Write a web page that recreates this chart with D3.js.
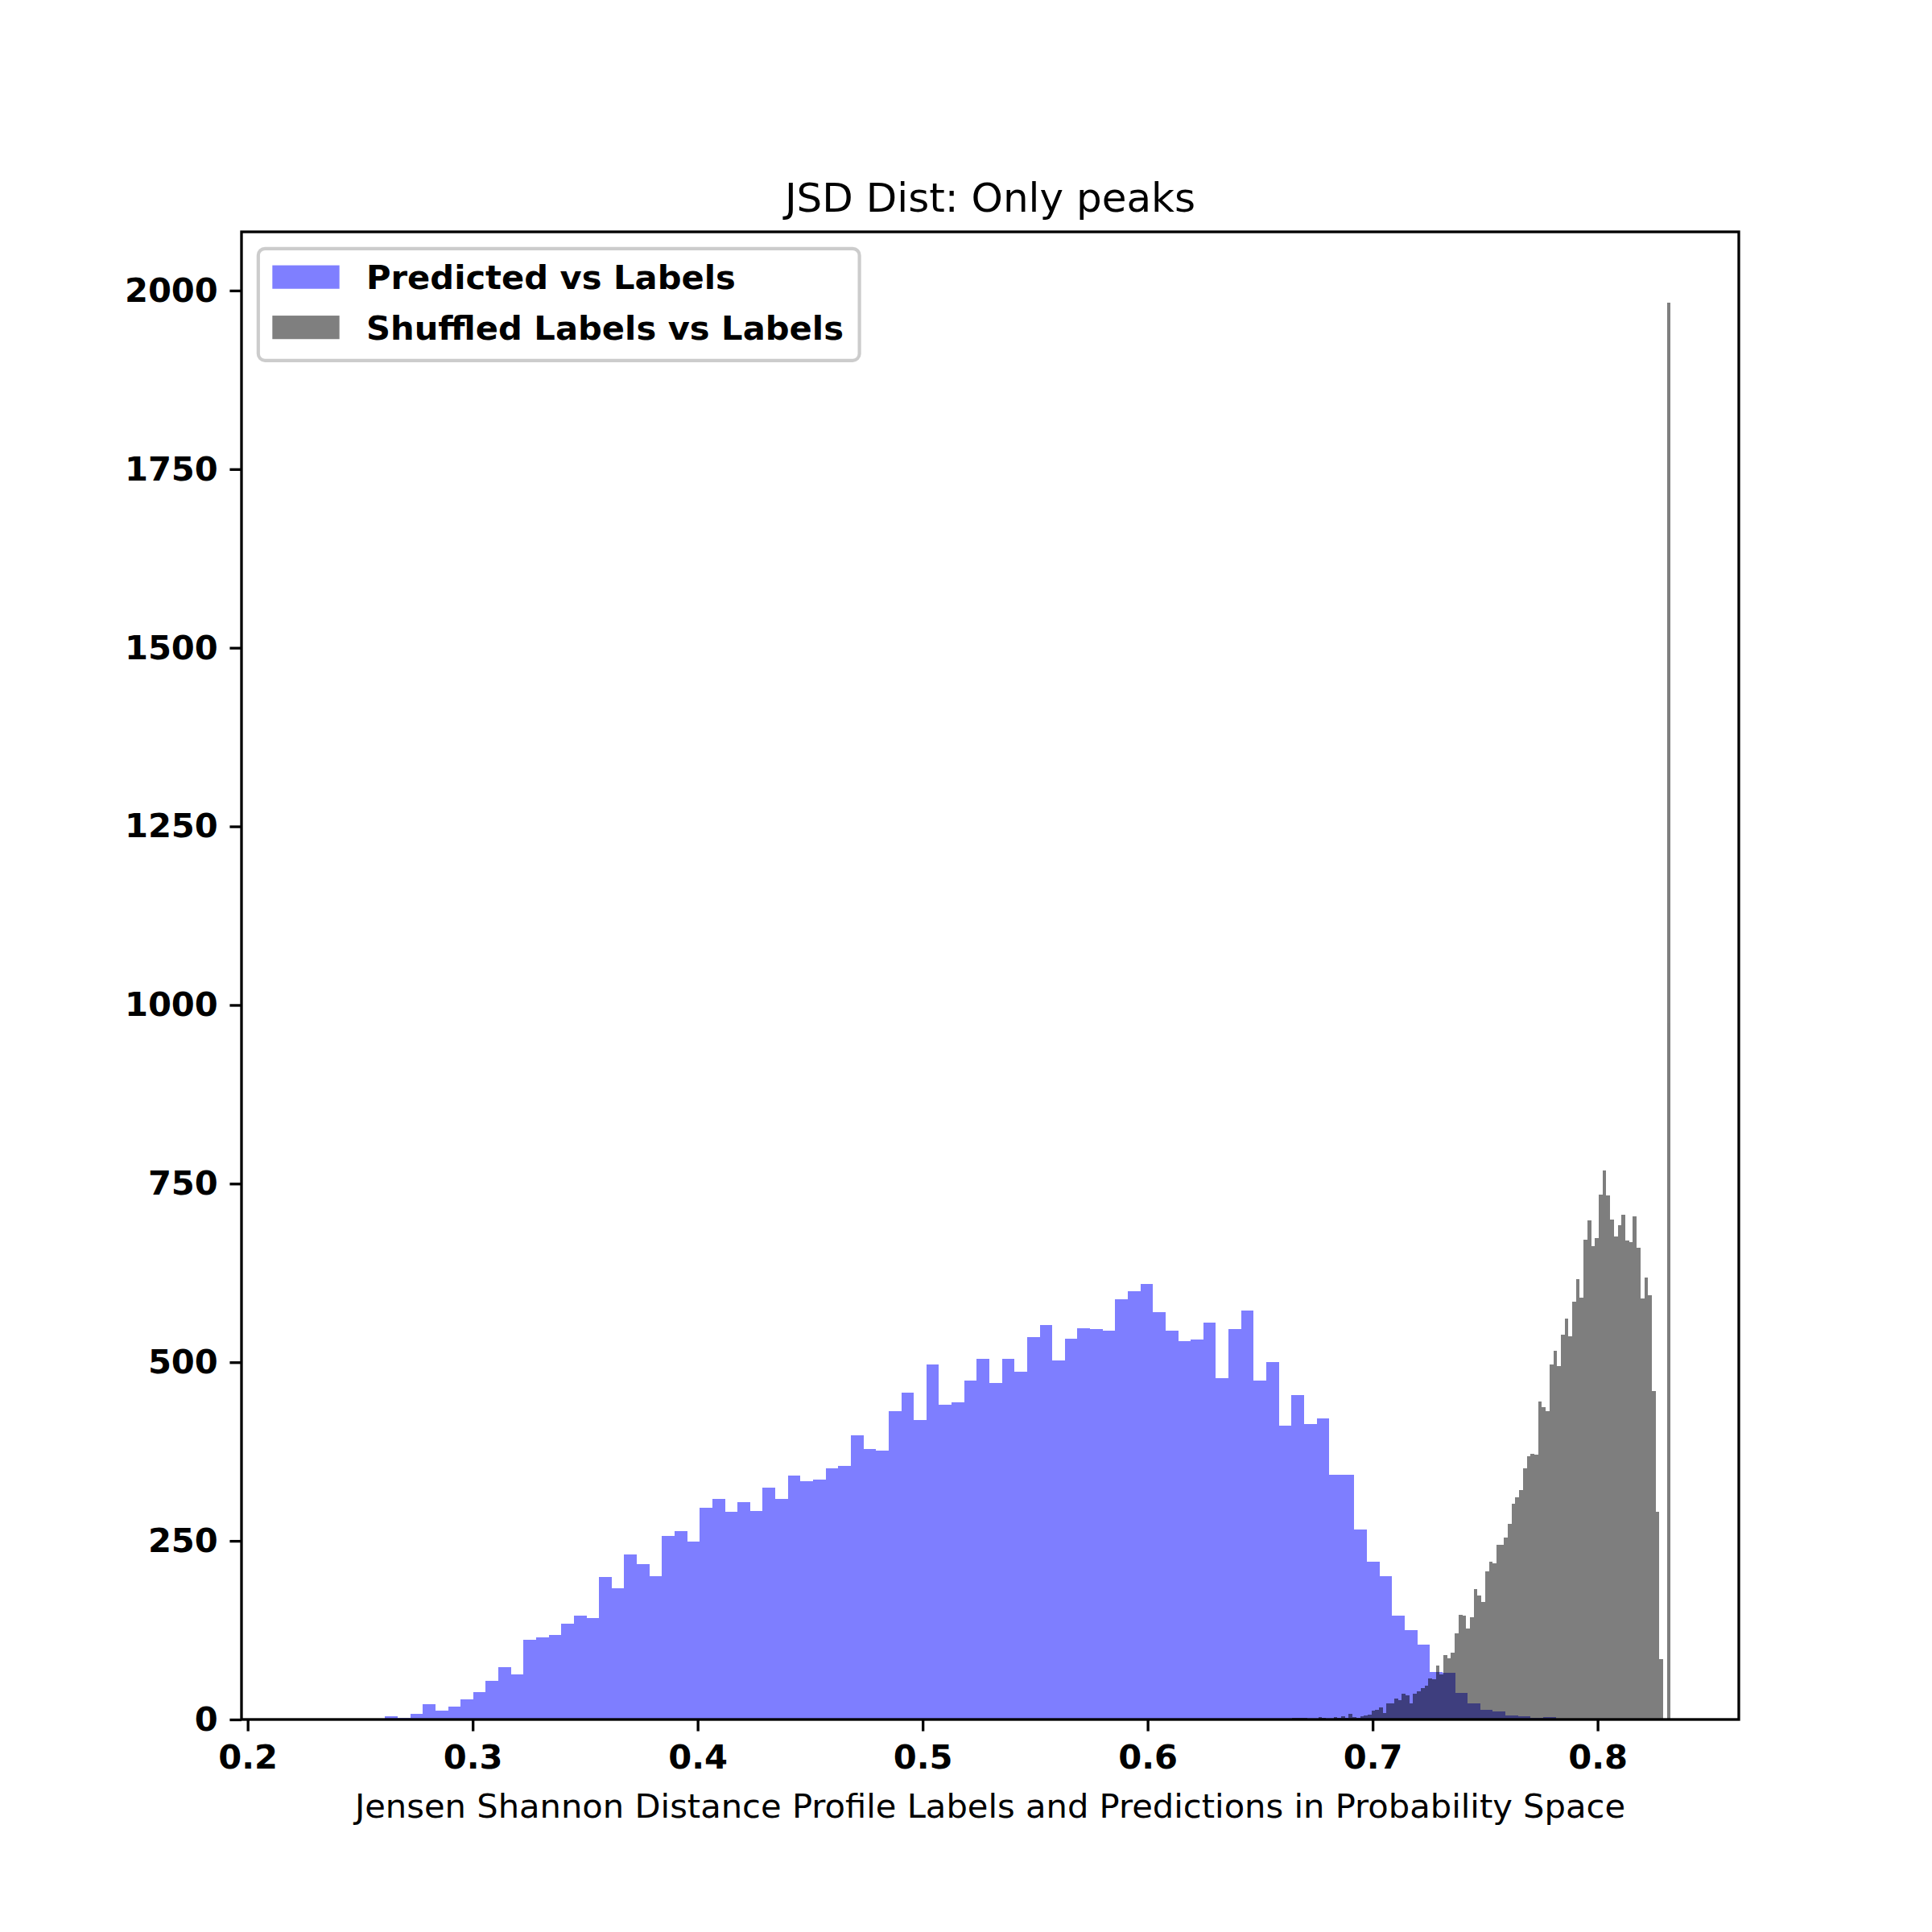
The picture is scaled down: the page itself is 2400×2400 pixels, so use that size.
<!DOCTYPE html>
<html>
<head>
<meta charset="utf-8">
<script src="https://cdn.jsdelivr.net/npm/d3@7/dist/d3.min.js"></script>
<style>
  body { margin: 0; background: #fff; }
  text { font-family: "DejaVu Sans", sans-serif; }
</style>
</head>
<body>
<div id="chart"></div>
<script>
// counts per bin, 100 equal bins over each series' own range
const predCounts = [
    1, 0, 0, 0, 0, 0, 4, 2, 8, 21,
    12, 18, 28, 38, 54, 73, 63, 111, 115, 118,
    134, 145, 142, 199, 184, 231, 217, 201, 257, 264,
    249, 296, 309, 291, 304, 292, 324, 309, 341, 333,
    336, 352, 355, 398, 379, 376, 431, 457, 419, 497,
    440, 444, 474, 505, 471, 505, 487, 535, 552, 502,
    533, 548, 546, 544, 588, 599, 609, 570, 544, 530,
    532, 556, 478, 546, 572, 474, 500, 411, 454, 414,
    421, 343, 343, 266, 221, 201, 145, 125, 105, 66,
    65, 37, 22, 13, 11, 6, 4, 2, 3, 1
]
const predRange = [0.2275, 0.7870]

const shufCounts = [
    2, 2, 2, 2, 0, 0, 0, 3, 2, 0,
    1, 3, 2, 4, 2, 8, 3, 2, 4, 6,
    7, 12, 13, 17, 9, 22, 22, 29, 27, 36,
    34, 22, 36, 39, 44, 47, 58, 56, 75, 63,
    90, 86, 93, 120, 146, 145, 127, 143, 182, 173,
    165, 207, 221, 219, 244, 244, 255, 274, 302, 311,
    321, 351, 368, 372, 371, 445, 437, 431, 497, 516,
    495, 539, 561, 536, 585, 616, 590, 671, 699, 662,
    674, 735, 768, 733, 700, 676, 692, 706, 670, 668,
    704, 660, 589, 619, 594, 460, 291, 85, 0, 1983
]
const shufRange = [0.6641, 0.8325]

const seriesNames = ["Predicted vs Labels", "Shuffled Labels vs Labels"]
const seriesColors = ["blue", "black"]
const xTicks = [0.2, 0.3, 0.4, 0.5, 0.6, 0.7, 0.8]
const yTicks = [0, 250, 500, 750, 1000, 1250, 1500, 1750, 2000]
const titleText = "JSD Dist: Only peaks"
const xLabelText = "Jensen Shannon Distance Profile Labels and Predictions in Probability Space"

function make_bins(counts, range)
{
    const w = (range[1] - range[0]) / counts.length
    return counts.map((n, i) => ({ x0: range[0] + i * w, x1: range[0] + (i + 1) * w, n: n }))
}

function draw()
{
    const width = 2400, height = 2400
    const margin = { left: 300, right: 240, top: 288, bottom: 264 }
    const fs = 300 / 72 * 10   // 10pt at 300 dpi
    const lw = 300 / 72 * 0.8

    const svg = d3.select("#chart")
        .append("svg")
            .attr("width", width)
            .attr("height", height)
            .style("background", "#fff")

    const w = width - margin.left - margin.right
    const h = height - margin.top - margin.bottom

    const g = svg.append("g")
        .attr("transform", `translate(${margin.left}, ${margin.top})`)

    const lo = Math.min(predRange[0], shufRange[0])
    const hi = Math.max(predRange[1], shufRange[1])
    const pad = 0.05 * (hi - lo)
    const x = d3.scaleLinear().domain([lo - pad, hi + pad]).range([0, w])

    const maxCount = d3.max(predCounts.concat(shufCounts))
    const y = d3.scaleLinear().domain([0, maxCount * 1.05]).range([h, 0])

    const series = [make_bins(predCounts, predRange), make_bins(shufCounts, shufRange)]

    series.forEach((bins, si) => {
        g.append("g")
            .attr("opacity", 0.5)
            .selectAll("rect")
            .data(bins)
            .enter().append("rect")
                .attr("x", d => x(d.x0))
                .attr("width", d => x(d.x1) - x(d.x0))
                .attr("y", d => y(d.n))
                .attr("height", d => y(0) - y(d.n))
                .attr("fill", seriesColors[si])
                .attr("shape-rendering", "crispEdges")
    })

    // axes
    const xAxis = g.append("g")
        .attr("transform", `translate(0, ${h})`)
        .call(d3.axisBottom(x).tickValues(xTicks).tickFormat(d3.format(".1f"))
            .tickSizeInner(fs * 0.35).tickSizeOuter(0).tickPadding(fs * 0.35))
    const yAxis = g.append("g")
        .call(d3.axisLeft(y).tickValues(yTicks).tickFormat(d3.format("d"))
            .tickSizeInner(fs * 0.35).tickSizeOuter(0).tickPadding(fs * 0.35))

    for (const ax of [xAxis, yAxis]) {
        ax.select(".domain").remove()
        ax.selectAll(".tick line").attr("stroke", "#000").attr("stroke-width", lw)
        ax.selectAll(".tick text")
            .attr("fill", "#000")
            .style("font-family", "'DejaVu Sans', sans-serif")
            .style("font-size", fs + "px")
            .style("font-weight", "bold")
    }
    xAxis.selectAll(".tick text").attr("dy", "0.76em")

    // frame
    g.append("rect")
        .attr("width", w)
        .attr("height", h)
        .attr("fill", "none")
        .attr("stroke", "#000")
        .attr("stroke-width", lw)

    // title and x label
    g.append("text")
        .attr("x", w / 2)
        .attr("y", -fs * 0.6)
        .attr("text-anchor", "middle")
        .style("font-size", (fs * 1.2) + "px")
        .text(titleText)

    g.append("text")
        .attr("x", w / 2)
        .attr("y", h + 122)
        .attr("text-anchor", "middle")
        .style("font-size", fs + "px")
        .text(xLabelText)

    // legend
    const lg = g.append("g")
        .attr("transform", `translate(${fs * 0.5}, ${fs * 0.5})`)
    const box = lg.append("rect")
        .attr("rx", fs * 0.2)
        .attr("ry", fs * 0.2)
        .attr("fill", "#fff")
        .attr("fill-opacity", 0.8)
        .attr("stroke", "#cccccc")
        .attr("stroke-width", 300 / 72)

    const labels = []
    seriesNames.forEach((name, i) => {
        const cy = 14.5 + fs * 0.5 + i * 62.5
        lg.append("rect")
            .attr("x", 17.5)
            .attr("y", cy - fs * 0.35)
            .attr("width", fs * 2)
            .attr("height", fs * 0.7)
            .attr("fill", seriesColors[i])
            .attr("fill-opacity", 0.5)
        labels.push(lg.append("text")
            .attr("x", 17.5 + fs * 2.8)
            .attr("y", cy + fs * 0.36)
            .style("font-size", fs + "px")
            .style("font-weight", "bold")
            .text(name))
    })
    const textW = d3.max(labels, t => t.node().getComputedTextLength())
    box.attr("width", 17.5 + fs * 2.8 + textW + fs * 0.4 + 3)
        .attr("height", 139)
}

draw()
</script>
</body>
</html>
